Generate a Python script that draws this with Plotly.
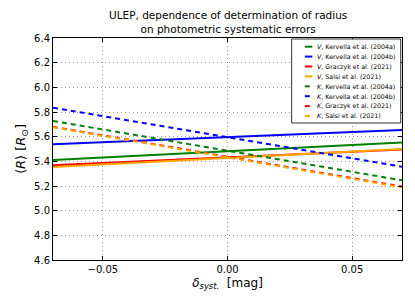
import plotly.graph_objects as go

# ---- data ----
delta = [-0.07, 0.07]
V_kervella_a = [5.410, 5.552]
V_kervella_b = [5.538, 5.654]
V_graczyk = [5.368, 5.495]
V_salsi = [5.354, 5.500]
K_kervella_a = [5.727, 5.246]
K_kervella_b = [5.835, 5.357]
K_graczyk = [5.680, 5.195]
K_salsi = [5.676, 5.189]

labels = [
    "<i>V</i>, Kervella et al. (2004a)",
    "<i>V</i>, Kervella et al. (2004b)",
    "<i>V</i>, Graczyk et al. (2021)",
    "<i>V</i>, Salsi et al. (2021)",
    "<i>K</i>, Kervella et al. (2004a)",
    "<i>K</i>, Kervella et al. (2004b)",
    "<i>K</i>, Graczyk et al. (2021)",
    "<i>K</i>, Salsi et al. (2021)",
]
series = [V_kervella_a, V_kervella_b, V_graczyk, V_salsi,
          K_kervella_a, K_kervella_b, K_graczyk, K_salsi]
colors = ["#008000", "#0000ff", "#ff0000", "#ffa500"] * 2
dashes = ["solid"] * 4 + ["5px,4px"] * 4

x_ticks = [-0.05, 0.0, 0.05]
x_ticklabels = ["\u22120.05", "0.00", "0.05"]
y_ticks = [4.6, 4.8, 5.0, 5.2, 5.4, 5.6, 5.8, 6.0, 6.2, 6.4]

W, H = 415, 297
ML, MR, MT, MB = 42, 21, 30, 45
PW, PH = W - ML - MR, H - MT - MB

def px_x(p):
    return (p - ML) / PW

def px_y(p):
    return (H - MB - p) / PH

fig = go.Figure()
for lab, ys, c, d in zip(labels, series, colors, dashes):
    fig.add_trace(go.Scatter(x=delta, y=ys, mode="lines", name=lab,
                             line=dict(color=c, width=2, dash=d),
                             showlegend=False))

# manual legend (matplotlib-like compact legend)
shapes = [dict(type="rect", xref="paper", yref="paper",
               x0=px_x(282.7), x1=px_x(392.7), y0=px_y(115), y1=px_y(31),
               line=dict(color="#333333", width=1), fillcolor="white", layer="above")]
annotations = []
for i, (lab, c, d) in enumerate(zip(labels, colors, dashes)):
    yc = 38.7 + 9.9 * i
    shapes.append(dict(type="line", xref="paper", yref="paper",
                       x0=px_x(296), x1=px_x(303.5), y0=px_y(yc), y1=px_y(yc),
                       line=dict(color=c, width=2, dash=d), layer="above"))
    annotations.append(dict(xref="paper", yref="paper", x=px_x(306), y=px_y(yc),
                            text=lab, showarrow=False, xanchor="left", yanchor="middle",
                            font=dict(size=6.3, color="black", family="DejaVu Sans")))

# title as annotation (two lines)
annotations.append(dict(xref="paper", yref="paper", x=0.5, y=px_y(29), xanchor="center",
                        yanchor="bottom", showarrow=False,
                        text="ULEP, dependence of determination of radius<br>on photometric systematic errors",
                        font=dict(size=10.5, color="black", family="DejaVu Sans")))

axis_common = dict(showline=True, linecolor="black", linewidth=1, mirror="ticks",
                   ticks="inside", ticklen=4, tickcolor="black", tickwidth=1,
                   showgrid=True, gridcolor="rgba(0,0,0,0.4)", gridwidth=1, griddash="1px,3px",
                   zeroline=False, tickfont=dict(size=10, color="black", family="DejaVu Sans"))

fig.update_layout(
    width=W, height=H,
    margin=dict(l=ML, r=MR, t=MT, b=MB),
    paper_bgcolor="white", plot_bgcolor="white",
    font=dict(family="DejaVu Sans", color="black"),
    xaxis=dict(range=[-0.07, 0.07], tickvals=x_ticks, ticktext=x_ticklabels,
               title=dict(text="<i>δ</i><sub><i>syst.</i></sub>  [mag]",
                          font=dict(size=12, color="black", family="DejaVu Sans"), standoff=4),
               **axis_common),
    yaxis=dict(range=[4.6, 6.4], tickvals=y_ticks, tickformat=".1f",
               title=dict(text="⟨<i>R</i>⟩ [<i>R</i><sub>⊙</sub>]",
                          font=dict(size=13, color="black", family="DejaVu Sans"), standoff=5),
               **axis_common),
    shapes=shapes, annotations=annotations,
    showlegend=False,
)

fig.write_html("out.html")
